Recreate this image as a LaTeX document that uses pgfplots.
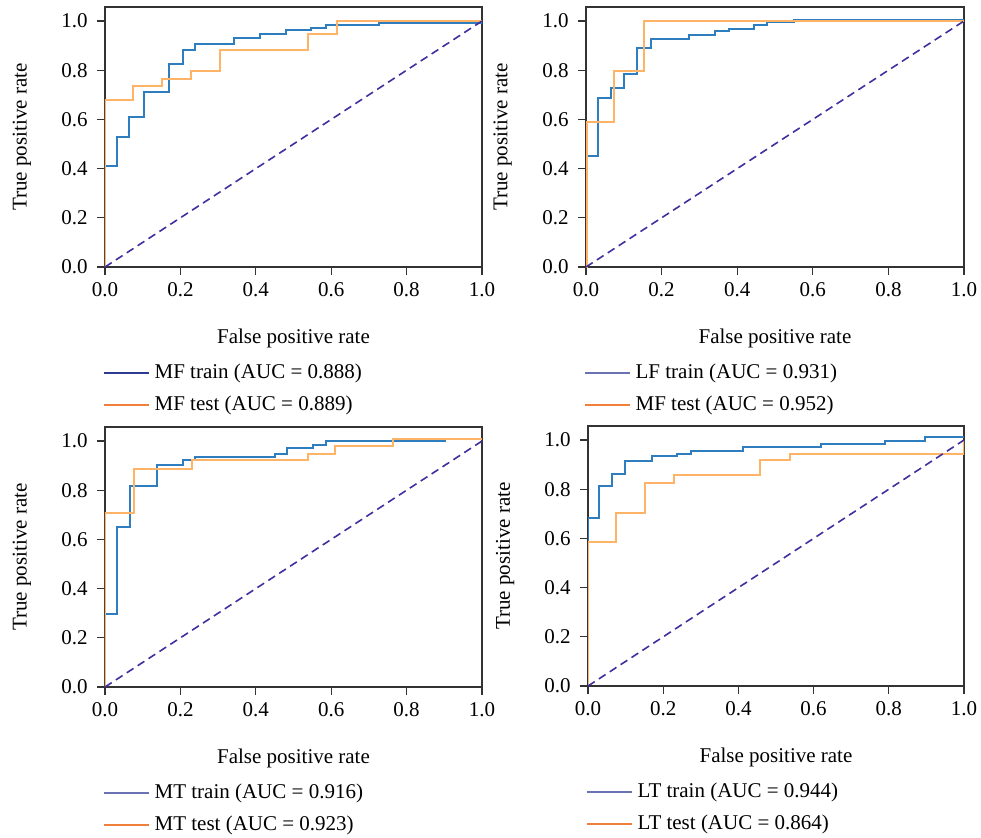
\documentclass[border=0pt]{standalone}
\usepackage{fontspec}
\setmainfont{Liberation Serif}
\usepackage{pgfplots}
\pgfplotsset{compat=1.18}
\definecolor{trainc}{HTML}{2E7EBF}
\definecolor{testc}{HTML}{FFB366}
\definecolor{diagc}{HTML}{3F2F9F}
\definecolor{legtrainA}{HTML}{2E3B91}
\definecolor{legtrain}{HTML}{6B72B3}
\definecolor{legtest}{HTML}{F07F3C}
\definecolor{axc}{HTML}{333333}
\pgfplotsset{roc/.style={
  scale only axis, width=188.5pt, height=130pt,
  xmin=0, xmax=1, ymin=0, ymax=1.057,
  xtick={0,0.2,0.4,0.6,0.8,1}, ytick={0,0.2,0.4,0.6,0.8,1},
  /pgf/number format/.cd, fixed, fixed zerofill, precision=1, assume math mode=true, /pgfplots/.cd,
  axis line style={axc, line width=0.6pt},
  tick style={axc, line width=0.6pt},
  major tick length=4pt, tick align=outside,
  xtick pos=bottom, ytick pos=left,
  yticklabel style={inner sep=4.5pt},
  xlabel={False positive rate},
  xlabel style={at={(axis description cs:0.5,-0.273)}, anchor=center},
  ylabel={True positive rate},
  ylabel style={at={(axis description cs:-0.2205,0.5)}, anchor=center},
  legend cell align=left,
  legend image code/.code={\draw[##1, line width=0.8pt] (0pt,0pt) -- (22.5pt,0pt);},
  legend style={at={(axis description cs:0,0)}, anchor=north west, xshift=-1pt, yshift=-48.5pt,
    draw=none, fill=none, inner sep=0pt, outer sep=0pt, row sep=7pt, column sep=2.5pt,
    nodes={inner sep=0pt, text height=7pt, text depth=2pt}},
  every axis plot/.append style={line width=1pt},
}}
\newcommand{\diag}{\addplot[diagc, dashed, dash pattern=on 4pt off 2.5pt, line width=0.8pt, forget plot] coordinates {(0,0) (1,1)};}
\begin{document}
\begin{tikzpicture}[font=\fontsize{10.5}{12.6}\selectfont]
\useasboundingbox (0,0) rectangle (490.5pt,-418.5pt);
% Panel 1
\begin{axis}[roc, at={(52.5pt,-133.5pt)}, anchor=south west]
\addlegendimage{legtrainA}\addlegendentry{MF train (AUC = 0.888)}
\addlegendimage{legtest}\addlegendentry{MF test (AUC = 0.889)}
\addplot[trainc, const plot, forget plot] coordinates {(0,0)(0,0.411)(0.033,0.528)(0.064,0.611)(0.103,0.712)(0.170,0.825)(0.206,0.881)(0.239,0.905)(0.341,0.929)(0.410,0.946)(0.481,0.962)(0.546,0.971)(0.587,0.985)(0.727,0.993)(1,1)};
\addplot[testc, const plot, forget plot] coordinates {(0,0)(0,0.678)(0.073,0.735)(0.152,0.765)(0.229,0.796)(0.305,0.881)(0.539,0.947)(0.615,1.0)(1,1)};
\diag
\end{axis}
% Panel 2
\begin{axis}[roc, width=189pt, at={(293pt,-133.5pt)}, anchor=south west]
\addlegendimage{legtrain}\addlegendentry{LF train (AUC = 0.931)}
\addlegendimage{legtest}\addlegendentry{MF test (AUC = 0.952)}
\addplot[trainc, const plot, forget plot] coordinates {(0,0)(0,0.453)(0.032,0.689)(0.065,0.727)(0.100,0.783)(0.135,0.889)(0.171,0.928)(0.273,0.944)(0.342,0.958)(0.377,0.969)(0.444,0.984)(0.479,0.996)(0.551,1.006)(1,1.006)};
\addplot[testc, const plot, forget plot] coordinates {(0,0)(0.003,0.588)(0.075,0.795)(0.154,1.0)(1,1.0)};
\diag
\end{axis}
% Panel 3
\begin{axis}[roc, at={(52.5pt,-343.5pt)}, anchor=south west]
\addlegendimage{legtrain}\addlegendentry{MT train (AUC = 0.916)}
\addlegendimage{legtest}\addlegendentry{MT test (AUC = 0.923)}
\addplot[trainc, const plot, forget plot] coordinates {(0,0)(0,0.298)(0.033,0.650)(0.067,0.817)(0.138,0.904)(0.208,0.923)(0.239,0.935)(0.451,0.949)(0.482,0.970)(0.553,0.985)(0.587,0.999)(0.905,0.999)};
\addplot[testc, const plot, forget plot] coordinates {(0,0)(0,0.706)(0.077,0.886)(0.231,0.921)(0.538,0.947)(0.611,0.978)(0.765,1.008)(1,1.008)};
\diag
\end{axis}
% Panel 4
\begin{axis}[roc, width=188pt, at={(294pt,-343pt)}, anchor=south west]
\addlegendimage{legtrain}\addlegendentry{LT train (AUC = 0.944)}
\addlegendimage{legtest}\addlegendentry{LT test (AUC = 0.864)}
\addplot[trainc, const plot, forget plot] coordinates {(0,0)(0,0.682)(0.030,0.814)(0.063,0.863)(0.099,0.916)(0.170,0.934)(0.237,0.944)(0.273,0.957)(0.413,0.971)(0.619,0.984)(0.791,0.995)(0.896,1.011)(1,1.011)};
\addplot[testc, const plot, forget plot] coordinates {(0,0)(0,0.586)(0.074,0.704)(0.151,0.826)(0.230,0.856)(0.458,0.917)(0.536,0.944)(1,1.0)};
\diag
\end{axis}
\end{tikzpicture}
\end{document}
